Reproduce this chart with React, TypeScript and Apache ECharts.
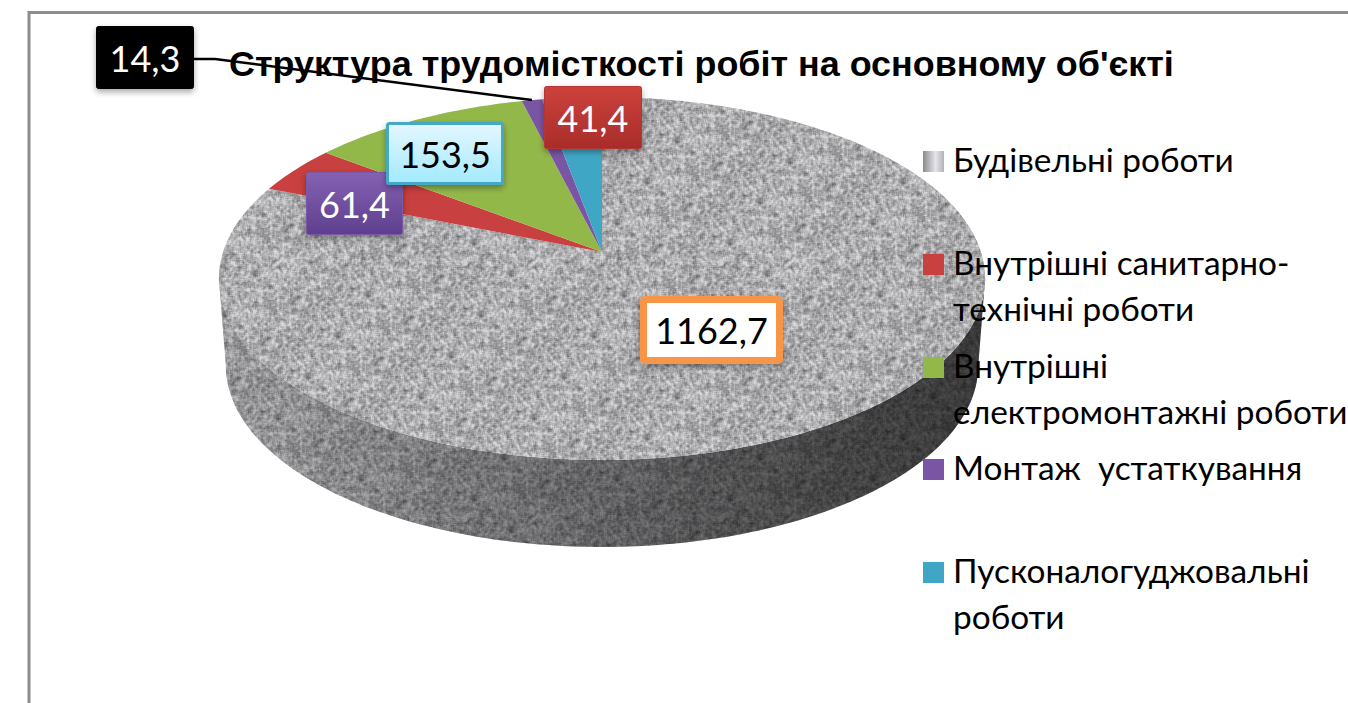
import React, { useEffect, useRef } from "react";
import * as echarts from "echarts";

const chartTitle = "Структура трудомісткості робіт на основному об'єкті";
const categories = [
  "Будівельні роботи",
  "Внутрішні санитарно-\nтехнічні роботи",
  "Внутрішні\nелектромонтажні роботи",
  "Монтаж  устаткування",
  "Пусконалогуджовальні\nроботи",
];
const values = [1162.7, 61.4, 153.5, 14.3, 41.4];
const sliceColors = ["#a6a6aa", "#c8403f", "#93b84a", "#7a55a3", "#3fa6c6"];
const legendTops = [151, 254, 357, 459, 562];
const FONT = "Lato, Carlito, 'Open Sans', sans-serif";

// label boxes, drawing order
const labelBoxes = [
  { i: 0, x: 640, y: 296, w: 143, h: 68, fill: "#ffffff", stroke: "#f79646", lw: 7, text: "#000000" },
  { i: 4, x: 544, y: 86, w: 98, h: 63, fill: ["#cd423c", "#a82c2a"], stroke: "#b53431", lw: 1, text: "#ffffff" },
  { i: 1, x: 306, y: 172, w: 97, h: 63, fill: ["#8661b3", "#5e3f8e"], stroke: "#7a58a5", lw: 1, text: "#ffffff" },
  { i: 2, x: 386, y: 122, w: 118, h: 63, fill: ["#e4f7ff", "#a2eaff"], stroke: "#45a9c6", lw: 3, text: "#000000" },
  { i: 3, x: 96, y: 26, w: 98, h: 63, fill: "#000000", stroke: "#000000", lw: 1, text: "#ffffff" },
];

// perspective disc
const CX = 602, CY = 252, A = 379, B = 177.6, K = 0.146, DEPTH = 87;
const total = values.reduce((s, v) => s + v, 0);
const rimPoint = (deg: number) => {
  const a = (deg * Math.PI) / 180;
  const w = 1 + K * Math.cos(a);
  return [CX + (A * Math.sin(a)) / w, CY - (B * Math.cos(a)) / w];
};
const startAngle = (idx: number) =>
  (values.slice(0, idx).reduce((s, v) => s + v, 0) / total) * 360;

function makeTexture() {
  const S = 256;
  const c = document.createElement("canvas");
  c.width = S;
  c.height = S;
  const ctx = c.getContext("2d")!;
  const img = ctx.createImageData(S, S);
  let seed = 12345;
  const next = () => {
    seed = (seed * 1103515245 + 12345) & 0x7fffffff;
    return seed / 0x7fffffff;
  };
  const raw = new Float32Array(S * S);
  const raw2 = new Float32Array(S * S);
  for (let i = 0; i < raw.length; i++) {
    raw[i] = next();
    raw2[i] = next();
  }
  const at = (arr: Float32Array, x: number, y: number) => arr[((y + S) % S) * S + ((x + S) % S)];
  for (let y = 0; y < S; y++) {
    for (let x = 0; x < S; x++) {
      let n = 0;
      for (let dy = -1; dy <= 1; dy++) for (let dx = -1; dx <= 1; dx++) n += at(raw, x + dx, y + dy);
      n = n / 9 - 0.5;
      let m = 0;
      for (let dy = -2; dy <= 2; dy++) for (let dx = -2; dx <= 2; dx++) m += at(raw2, x + dx, y + dy);
      m = m / 25 - 0.5;
      const g = Math.max(105, Math.min(215, 174 + n * 165 + m * 220));
      const p = (y * S + x) * 4;
      img.data[p] = g;
      img.data[p + 1] = g;
      img.data[p + 2] = g + 3;
      img.data[p + 3] = 255;
    }
  }
  ctx.putImageData(img, 0, 0);
  return c.toDataURL("image/png");
}

const v = (c: string[] | string) =>
  Array.isArray(c)
    ? { type: "linear", x: 0, y: 0, x2: 0, y2: 1, colorStops: [{ offset: 0, color: c[0] }, { offset: 1, color: c[1] }] }
    : c;

export default function App() {
  const ref = useRef<HTMLDivElement>(null);
  useEffect(() => {
    document.body.style.margin = "0";
    const chart = echarts.init(ref.current!, undefined, { renderer: "svg" });
    const pattern = { image: makeTexture(), repeat: "repeat", imageWidth: 256, imageHeight: 256 };

    const renderSlice = (idx: number) => (_p: any, api: any) => {
      const val = api.value(0);
      const from = startAngle(idx);
      const to = from + (val / total) * 360;
      const pts: number[][] = [[CX, CY]];
      for (let d = from; d < to; d += 1) pts.push(rimPoint(d));
      pts.push(rimPoint(to));
      const children: any[] = [];
      if (idx === 0) {
        const ext = (Math.acos(-K) * 180) / Math.PI;
        const wall: number[][] = [];
        for (let d = ext; d <= 360 - ext; d += 1) wall.push(rimPoint(d));
        for (let d = 360 - ext; d >= ext; d -= 1) {
          const p = rimPoint(d);
          wall.push([CX + (p[0] - CX) * 0.982, p[1] + DEPTH]);
        }
        children.push(
          { type: "polygon", shape: { points: wall }, style: { fill: pattern } },
          {
            type: "polygon",
            shape: { points: wall },
            style: {
              fill: {
                type: "linear", x: 0, y: 0, x2: 1, y2: 0,
                colorStops: [
                  { offset: 0, color: "rgba(0,0,0,0.1)" },
                  { offset: 0.35, color: "rgba(0,0,0,0.34)" },
                  { offset: 0.7, color: "rgba(0,0,0,0.55)" },
                  { offset: 1, color: "rgba(0,0,0,0.68)" },
                ],
              },
            },
          }
        );
      }
      children.push({
        type: "polygon",
        shape: { points: pts },
        style: idx === 0 ? { fill: pattern } : { fill: sliceColors[idx] },
      });
      return { type: "group", children };
    };

    const renderLabels = () => {
      const children: any[] = [];
      const target = rimPoint(startAngle(3) + (values[3] / total) * 180);
      children.push({
        type: "polyline",
        shape: { points: [[194, 59], [215, 59], [target[0], target[1]]] },
        style: { stroke: "#000", lineWidth: 2.5, fill: "none" },
      });
      labelBoxes.forEach((b) => {
        const txt = values[b.i].toFixed(1).replace(".", ",");
        children.push({
          type: "rect",
          shape: { x: b.x + b.lw / 2, y: b.y + b.lw / 2, width: b.w - b.lw, height: b.h - b.lw, r: 2 },
          style: {
            fill: v(b.fill),
            stroke: b.stroke,
            lineWidth: b.lw,
            shadowBlur: 6,
            shadowOffsetY: 3,
            shadowColor: "rgba(0,0,0,0.35)",
          },
        });
        children.push({
          type: "text",
          style: {
            x: b.x + b.w / 2,
            y: b.y + b.h / 2,
            text: txt,
            fill: b.text,
            font: `36px ${FONT}`,
            align: "center",
            verticalAlign: "middle",
          },
        });
      });
      return { type: "group", children };
    };

    // the swatch sits level with the first text line of its legend item
    const swatchIcon = (two: boolean) =>
      two ? "path://M0 0H21V21H0Z M25 61L25 61" : "path://M0 0L0 0 M0 6H21V27H0Z M25 27L25 27";

    chart.setOption({
      animation: false,
      backgroundColor: "#ffffff",
      title: {
        text: chartTitle,
        left: 229,
        top: 46,
        padding: 0,
        textStyle: { fontFamily: "'Liberation Sans', Arial, sans-serif", fontWeight: "bold", fontSize: 35.9, color: "#000" },
      },
      legend: categories.map((name, i) => {
        const two = name.includes("\n");
        return {
          show: true,
          left: 923,
          top: legendTops[i] - 15.5,
          padding: 0,
          orient: "vertical",
          selectedMode: false,
          itemWidth: 25,
          itemHeight: two ? 61 : 27,
          data: [
            {
              name,
              icon: swatchIcon(two),
              itemStyle: {
                color:
                  i === 0
                    ? {
                        type: "linear", x: 0, y: 0, x2: 1, y2: 0,
                        colorStops: [
                          { offset: 0, color: "#8a8a8e" },
                          { offset: 0.5, color: "#e6e6ea" },
                          { offset: 1, color: "#9a9a9e" },
                        ],
                      }
                    : sliceColors[i],
              },
            },
          ],
          textStyle: { fontFamily: FONT, fontSize: 33.4, lineHeight: 46, color: "#000" },
        };
      }),
      series: [
        ...categories.map((name, i) => ({
          type: "custom",
          name,
          coordinateSystem: "none",
          silent: true,
          z: 2,
          renderItem: renderSlice(i),
          data: [[values[i]]],
        })),
        {
          type: "custom",
          name: "labels",
          coordinateSystem: "none",
          silent: true,
          z: 3,
          renderItem: renderLabels,
          data: [[0]],
        },
      ],
      graphic: [
        {
          type: "polyline",
          silent: true,
          z: 0,
          shape: { points: [[29, 703], [29, 12.5], [1348, 12.5]] },
          style: { stroke: "#8c8c8c", lineWidth: 3, fill: "none" },
        },
      ],
    });
    return () => chart.dispose();
  }, []);
  return <div ref={ref} style={{ position: "absolute", left: 0, top: 0, width: 1348, height: 703 }} />;
}
